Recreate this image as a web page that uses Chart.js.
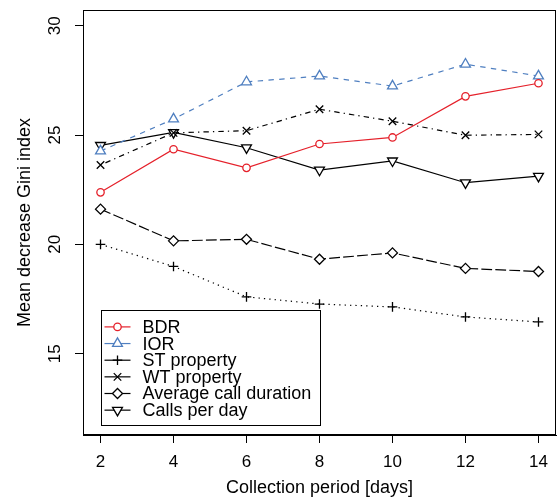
<!DOCTYPE html>
<html>
<head>
<meta charset="utf-8">
<title>Mean decrease Gini index by collection period</title>
<script src="https://cdn.jsdelivr.net/npm/chart.js@4/dist/chart.umd.min.js"></script>
<style>
  html, body { margin: 0; padding: 0; background: #fff; }
  #wrap { width: 557px; height: 504px; }
</style>
</head>
<body>
<div id="wrap"><canvas id="giniChart" width="557" height="504"></canvas></div>
<script>
// Collection period (days) and the mean decrease Gini index of each feature
const periods = [2, 4, 6, 8, 10, 12, 14];
const bdr = [22.38, 24.35, 23.5, 24.59, 24.89, 26.77, 27.37];
const ior = [24.27, 25.73, 27.43, 27.7, 27.24, 28.24, 27.7];
const stProperty = [20.0, 18.99, 17.6, 17.27, 17.14, 16.68, 16.45];
const wtProperty = [23.63, 25.1, 25.2, 26.18, 25.63, 24.99, 25.03];
const avgCallDuration = [21.61, 20.16, 20.23, 19.32, 19.61, 18.9, 18.76];
const callsPerDay = [24.53, 25.12, 24.42, 23.4, 23.82, 22.82, 23.12];

const seriesNames = ['BDR', 'IOR', 'ST property', 'WT property', 'Average call duration', 'Calls per day'];
const xTicks = [2, 4, 6, 8, 10, 12, 14];
const yTicks = [15, 20, 25, 30];

const FONT = '"Liberation Sans", Arial, Helvetica, sans-serif';
Chart.defaults.color = '#000';
Chart.defaults.font.family = FONT;

// build a dataset from one series
function makeSeries(label, values, color, dash, style, radius, rotation) {
  return {
    label: label,
    data: values.map((v, i) => ({ x: periods[i], y: v })),
    borderColor: color,
    borderWidth: 1.2,
    borderDash: dash,
    pointStyle: style,
    pointRadius: radius,
    pointRotation: rotation || 0,
    pointBorderColor: color,
    pointBackgroundColor: '#fff',
    pointBorderWidth: 1.3,
    tension: 0
  };
}

const datasets = [
  makeSeries(seriesNames[0], bdr, '#E5202A', [], 'circle', 3.7),
  makeSeries(seriesNames[1], ior, '#4F7FC0', [5.4, 5.4], 'triangle', 5.7),
  makeSeries(seriesNames[2], stProperty, '#000', [1.3, 4.1], 'cross', 4.8),
  makeSeries(seriesNames[3], wtProperty, '#000', [1.3, 4.1, 5.4, 4.1], 'crossRot', 5.3),
  makeSeries(seriesNames[4], avgCallDuration, '#000', [10.8, 3.2], 'rectRot', 5),
  makeSeries(seriesNames[5], callsPerDay, '#000', [], 'triangle', 5.7, 180)
];

// full box around the plot region
const frameBox = {
  id: 'frameBox',
  afterDraw(chart) {
    const a = chart.chartArea;
    const ctx = chart.ctx;
    ctx.save();
    ctx.strokeStyle = '#000';
    ctx.lineWidth = 1;
    ctx.strokeRect(Math.round(a.left) + 0.5, Math.round(a.top) + 0.5,
      Math.round(a.right - a.left) - 1, Math.round(a.bottom - a.top) - 1);
    ctx.restore();
  }
};

// boxed legend in the lower left corner of the plot
const boxLegend = {
  id: 'boxLegend',
  afterDraw(chart) {
    const ctx = chart.ctx;
    const a = chart.chartArea;
    const left = Math.round(chart.scales.x.getPixelForValue(periods[0])) + 0.5;
    const bottom = Math.round(a.bottom - 10) + 0.5;
    const w = 219, h = 115, rowH = 16.65;
    const top = bottom - h;
    ctx.save();
    ctx.fillStyle = '#fff';
    ctx.fillRect(left, top, w, h);
    ctx.strokeStyle = '#000';
    ctx.lineWidth = 1;
    ctx.strokeRect(left, top, w, h);
    ctx.font = '18px ' + FONT;
    ctx.textBaseline = 'middle';
    ctx.textAlign = 'left';
    chart.data.datasets.forEach((ds, i) => {
      const y = top + 16.4 + i * rowH;
      ctx.setLineDash([]);
      ctx.strokeStyle = ds.borderColor;
      ctx.lineWidth = ds.borderWidth;
      ctx.beginPath();
      ctx.moveTo(left + 3, y);
      ctx.lineTo(left + 29, y);
      ctx.stroke();
      ctx.lineWidth = ds.pointBorderWidth;
      ctx.fillStyle = '#fff';
      Chart.helpers.drawPoint(ctx, {
        pointStyle: ds.pointStyle,
        radius: ds.pointRadius,
        rotation: ds.pointRotation,
        borderWidth: ds.pointBorderWidth
      }, left + 16, y);
      ctx.fillStyle = '#000';
      ctx.fillText(ds.label, left + 41, y + 1);
    });
    ctx.restore();
  }
};

const chart = new Chart(document.getElementById('giniChart'), {
  type: 'line',
  data: { datasets: datasets },
  options: {
    responsive: false,
    animation: false,
    layout: { autoPadding: false, padding: { top: 10, right: 1, left: 0, bottom: 0 } },
    plugins: { legend: { display: false }, tooltip: { enabled: false } },
    scales: {
      x: {
        type: 'linear',
        position: 'bottom',
        min: 1.52,
        max: 14.48,
        afterBuildTicks: s => { s.ticks = xTicks.map(v => ({ value: v })); },
        afterFit: s => { s.height = 69; s.paddingLeft = 0; s.paddingRight = 0; },
        grid: { drawOnChartArea: false, tickLength: 8, color: '#000', tickColor: '#000' },
        border: { display: true, color: '#000', width: 1 },
        ticks: { font: { size: 17 }, padding: 9, maxRotation: 0, autoSkip: false },
        title: { display: true, text: 'Collection period [days]', font: { size: 18 }, padding: 5 }
      },
      y: {
        type: 'linear',
        position: 'left',
        min: 11.28,
        max: 30.72,
        afterBuildTicks: s => { s.ticks = yTicks.map(v => ({ value: v })); },
        afterFit: s => { s.width = 83; s.paddingTop = 0; s.paddingBottom = 0; },
        grid: { drawOnChartArea: false, tickLength: 8, color: '#000', tickColor: '#000' },
        border: { display: true, color: '#000', width: 1 },
        ticks: { font: { size: 17 }, padding: 10, minRotation: 90, maxRotation: 90, crossAlign: 'center', autoSkip: false },
        title: { display: true, text: 'Mean decrease Gini index', font: { size: 18 }, padding: 14 }
      }
    }
  },
  plugins: [frameBox, boxLegend]
});
</script>
</body>
</html>
